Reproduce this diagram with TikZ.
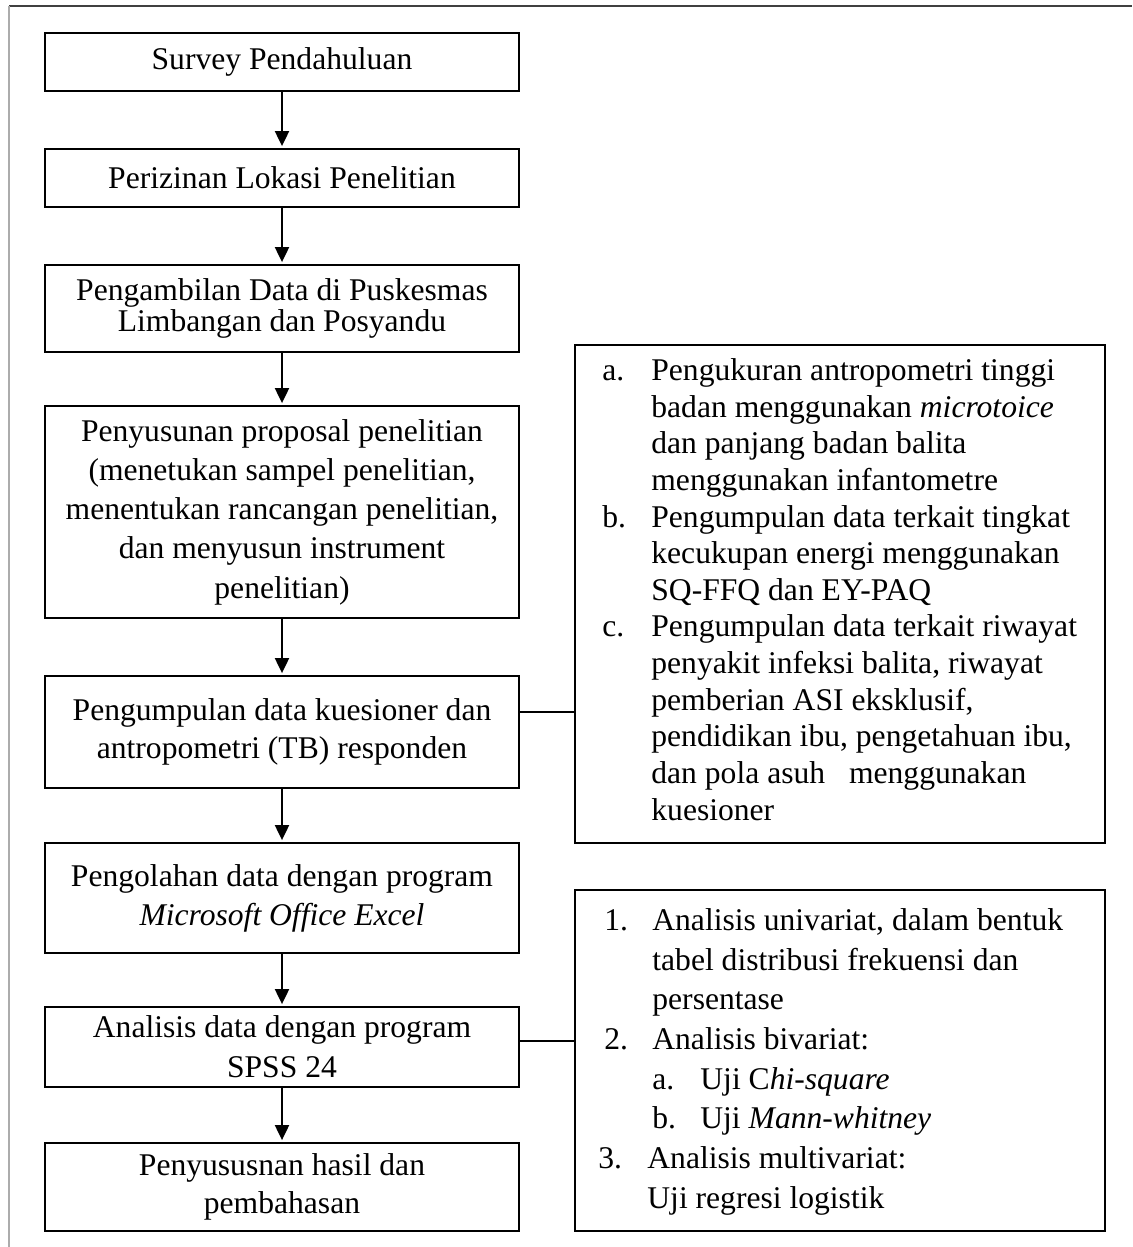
\documentclass[tikz,border=0pt]{standalone}
\usepackage{fontspec}
\setmainfont{Liberation Serif}
\usetikzlibrary{arrows.meta}
\begin{document}
\begin{tikzpicture}[x=0.5pt,y=-0.5pt,
  lbox/.style={draw, line width=0.9pt, rectangle, minimum width=237pt, inner sep=0pt, align=center, font=\fontsize{15.8}{19.6}\selectfont},
  rbox/.style={draw, line width=0.9pt, rectangle, minimum width=265pt, inner sep=0pt},
  flow/.style={line width=1pt, -{Triangle[width=7pt,length=7.5pt]}, shorten >=1pt},
  link/.style={line width=0.6pt},
  frameline/.style={line width=0.7pt}]
\useasboundingbox (0,0) rectangle (1132,1247);
% outer frame
\coordinate (ftl) at (9,6);
\coordinate (fbl) at (9,1247);
\coordinate (ftr) at (1132,6);
\draw[frameline, black!75] (ftl) -- (ftr);
\draw[frameline, gray!65, line width=1pt] (ftl) -- (fbl);
% left column
\node[lbox, minimum height=29pt] (b1) at (282,62) {Survey Pendahuluan};
\node[lbox, minimum height=29pt] (b2) at (282,178) {Perizinan Lokasi Penelitian};
\node[lbox, minimum height=43.5pt, font=\fontsize{15.8}{15.9}\selectfont] (b3) at (282,308.5) {Pengambilan Data di Puskesmas\\Limbangan dan Posyandu};
\node[lbox, minimum height=106pt] (b4) at (282,512) {Penyusunan proposal penelitian\\(menetukan sampel penelitian,\\menentukan rancangan penelitian,\\dan menyusun instrument\\penelitian)};
\node[lbox, minimum height=56pt, font=\fontsize{15.8}{19}\selectfont] (b5) at (282,732) {Pengumpulan data kuesioner dan\\antropometri (TB) responden};
\node[lbox, minimum height=55pt] (b6) at (282,898) {Pengolahan data dengan program\\\textit{Microsoft Office Excel}};
\node[lbox, minimum height=40pt, font=\fontsize{15.8}{20}\selectfont] (b7) at (282,1047) {Analisis data dengan program\\SPSS 24};
\node[lbox, minimum height=44pt, font=\fontsize{15.8}{19}\selectfont] (b8) at (282,1187) {Penyususnan hasil dan\\pembahasan};
\foreach \a/\b in {b1/b2,b2/b3,b3/b4,b4/b5,b5/b6,b6/b7,b7/b8}
  \draw[flow] (\a.south) -- (\b.north);
% right boxes
\node[rbox, minimum height=249pt] (ra) at (840,594) {};
\node[rbox, minimum height=170.5pt] (rb) at (840,1060.5) {};
\node[anchor=north west, inner sep=0pt, align=left, font=\fontsize{15.8}{18.33}\selectfont] (ta) at (602,354.3) {%
\strut\makebox[24.5pt][l]{a.}Pengukuran antropometri tinggi\\
\hspace*{24.5pt}badan menggunakan \textit{microtoice}\\
\hspace*{24.5pt}dan panjang badan balita\\
\hspace*{24.5pt}menggunakan infantometre\\
\makebox[24.5pt][l]{b.}Pengumpulan data terkait tingkat\\
\hspace*{24.5pt}kecukupan energi menggunakan\\
\hspace*{24.5pt}SQ-FFQ dan EY-PAQ\\
\makebox[24.5pt][l]{c.}Pengumpulan data terkait riwayat\\
\hspace*{24.5pt}penyakit infeksi balita, riwayat\\
\hspace*{24.5pt}pemberian ASI eksklusif,\\
\hspace*{24.5pt}pendidikan ibu, pengetahuan ibu,\\
\hspace*{24.5pt}dan pola asuh\hspace*{8pt} menggunakan\\
\hspace*{24.5pt}kuesioner};
\node[anchor=north west, inner sep=0pt, align=left, font=\fontsize{15.8}{19.85}\selectfont] (tb) at (598,902.2) {%
\strut\hspace*{3pt}\makebox[24pt][l]{1.}Analisis univariat, dalam bentuk\\
\hspace*{27pt}tabel distribusi frekuensi dan\\
\hspace*{27pt}persentase\\
\hspace*{3pt}\makebox[24pt][l]{2.}Analisis bivariat:\\
\hspace*{27pt}\makebox[24pt][l]{a.}Uji C\textit{hi-square}\\
\hspace*{27pt}\makebox[24pt][l]{b.}Uji \textit{Mann-whitney}\\
\makebox[24.5pt][l]{3.}Analisis multivariat:\\
\hspace*{24.5pt}Uji regresi logistik};
% links
\draw[link] ([yshift=10pt]b5.east) -- ([yshift=10pt]b5.east -| ra.west);
\draw[link] ([yshift=3pt]b7.east) -- ([yshift=3pt]b7.east -| rb.west);
\end{tikzpicture}
\end{document}
